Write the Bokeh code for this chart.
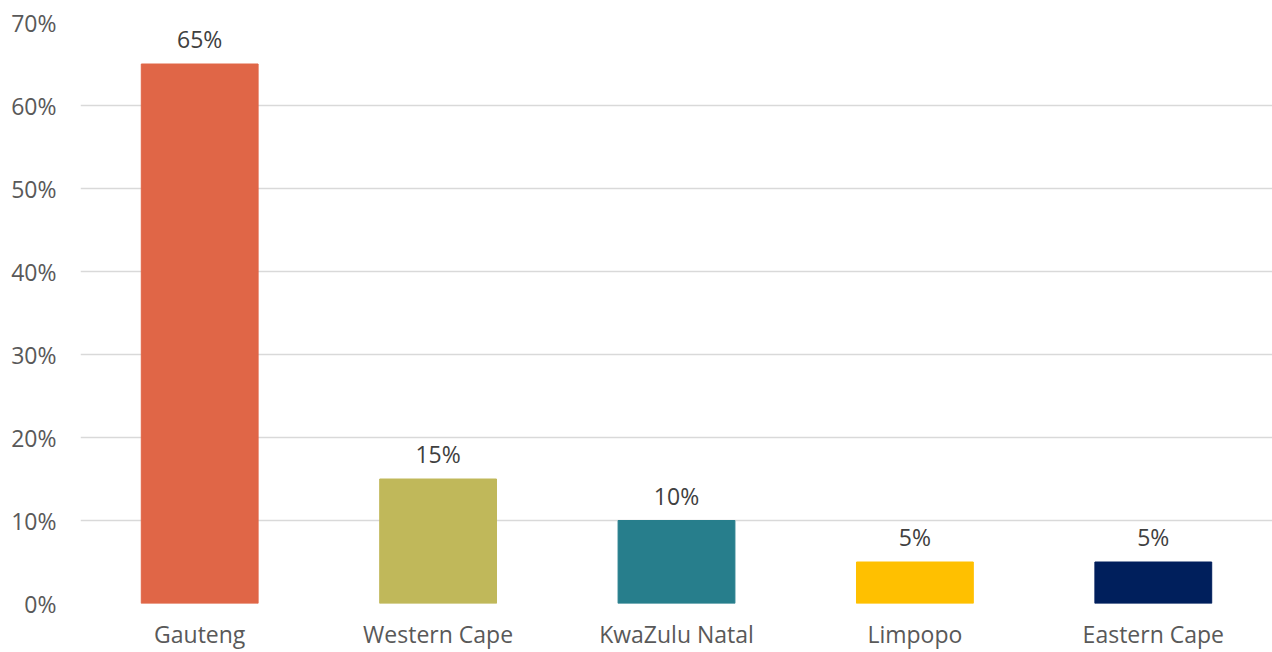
from bokeh.plotting import figure
from bokeh.models import ColumnDataSource, NumeralTickFormatter, FixedTicker, Range1d, LabelSet
from bokeh.core.properties import value
from bokeh.embed import file_html
from bokeh.resources import INLINE

provinces = ["Gauteng", "Western Cape", "KwaZulu Natal", "Limpopo", "Eastern Cape"]
shares = [0.65, 0.15, 0.10, 0.05, 0.05]
share_labels = ["65%", "15%", "10%", "5%", "5%"]
colors = ["#E06647", "#C0B85A", "#277E8C", "#FFC000", "#001F5C"]
y_ticks = [0.0, 0.1, 0.2, 0.3, 0.4, 0.5, 0.6, 0.7]

FONT = "Open Sans"

src = ColumnDataSource(dict(x=provinces, top=shares, lab=share_labels, color=colors))

p = figure(x_range=provinces, y_range=Range1d(0, 0.7), width=1272, height=652,
           output_backend="svg", toolbar_location=None,
           min_border_left=80, min_border_top=22, min_border_right=0, min_border_bottom=48)
p.outline_line_color = None
p.vbar(x="x", top="top", width=0.49, color="color", source=src)

labels = LabelSet(x="x", y="top", text="lab", source=src, text_align="center",
                  text_baseline="alphabetic", y_offset=16, text_font=value(FONT),
                  text_font_size="23px", text_color="#404040")
p.add_layout(labels)

p.yaxis.ticker = FixedTicker(ticks=y_ticks)
p.yaxis.formatter = NumeralTickFormatter(format="0%")
for ax in (p.xaxis, p.yaxis):
    ax.axis_line_color = None
    ax.major_tick_line_color = None
    ax.minor_tick_line_color = None
    ax.major_tick_out = 0
    ax.major_tick_in = 0
    ax.major_label_text_font = FONT
    ax.major_label_text_font_size = "23px"
    ax.major_label_text_color = "#595959"
p.yaxis.major_label_standoff = 24
p.xaxis.major_label_standoff = 14
p.xgrid.grid_line_color = None
p.ygrid.grid_line_color = "#D9D9D9"
p.ygrid.grid_line_width = 1.5
p.x_range.range_padding = 0

open("out.html", "w").write(file_html(p, INLINE))
